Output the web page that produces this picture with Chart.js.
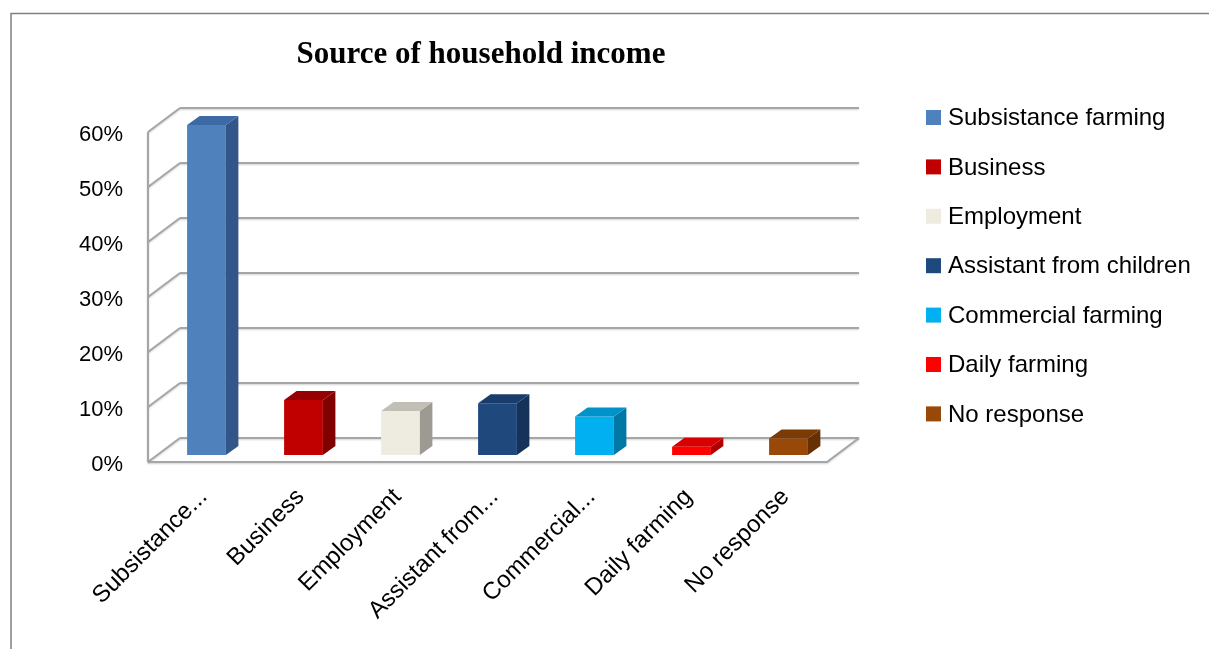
<!DOCTYPE html>
<html lang="en">
<head>
    <meta charset="UTF-8">
    <title>Source of household income</title>
    <style>
        body {
            margin: 0;
            background: #fff;
        }

        #wrap {
            width: 1209px;
            height: 649px;
            position: relative;
        }
    </style>
</head>
<body>
    <div id="wrap">
        <canvas id="incomeChart" width="1209" height="649"></canvas>
    </div>

    <script src="https://cdn.jsdelivr.net/npm/chart.js"></script>
    <script>
        // data
        const categories = ['Subsistance farming', 'Business', 'Employment', 'Assistant from children', 'Commercial farming', 'Daily farming', 'No response'];
        const tickLabels = ['Subsistance...', 'Business', 'Employment', 'Assistant from...', 'Commercial...', 'Daily farming', 'No response'];
        const percentages = [60, 10, 8, 9.4, 7, 1.5, 3];
        const yTicks = [0, 10, 20, 30, 40, 50, 60];

        const frontColors = ['#4f81bd', '#c00000', '#eeece1', '#1f497d', '#00b0f0', '#ff0000', '#984807'];
        const sideColors = ['#32568a', '#800000', '#9c9a92', '#15325a', '#0078a6', '#b00000', '#663004'];
        const topColors = ['#3c6aa4', '#960000', '#c2c0b6', '#1a3c6c', '#0092c8', '#d80000', '#7c3a05'];

        // depth of the floor / back wall and of each bar (pixels)
        const wallFront = { dx: -10, dy: 7 };
        const wallBack = { dx: 22, dy: -17 };
        const barDepth = { dx: 12.5, dy: -9 };

        Chart.defaults.font.family = '"Liberation Sans", Arial, sans-serif';
        Chart.defaults.color = '#000';

        function line(ctx, x1, y1, x2, y2) {
            ctx.beginPath();
            ctx.moveTo(x1, y1);
            ctx.lineTo(x2, y2);
            ctx.stroke();
        }

        function poly(ctx, pts, fill) {
            ctx.beginPath();
            ctx.moveTo(pts[0][0], pts[0][1]);
            for (let i = 1; i < pts.length; i++) ctx.lineTo(pts[i][0], pts[i][1]);
            ctx.closePath();
            ctx.fillStyle = fill;
            ctx.fill();
        }

        // frame, walls, title and legend
        const framePlugin = {
            id: 'frame3d',
            beforeDatasetsDraw(chart) {
                const ctx = chart.ctx;
                const ca = chart.chartArea;
                const ys = chart.scales.y;
                ctx.save();
                ctx.strokeStyle = '#a6a6a6';
                ctx.lineWidth = 2;
                ctx.shadowColor = 'rgba(0,0,0,0.18)';
                ctx.shadowBlur = 2;
                ctx.shadowOffsetY = 1;

                yTicks.forEach(v => {
                    const y = ys.getPixelForValue(v);
                    line(ctx, ca.left + wallBack.dx, y + wallBack.dy, ca.right + wallBack.dx, y + wallBack.dy);
                    line(ctx, ca.left + wallFront.dx, y + wallFront.dy, ca.left + wallBack.dx, y + wallBack.dy);
                });

                const y0 = ys.getPixelForValue(0);
                const yMax = ys.getPixelForValue(yTicks[yTicks.length - 1]);
                line(ctx, ca.left + wallFront.dx, yMax + wallFront.dy, ca.left + wallFront.dx, y0 + wallFront.dy);
                ctx.beginPath();
                ctx.moveTo(ca.left + wallFront.dx, y0 + wallFront.dy);
                ctx.lineTo(ca.right + wallFront.dx, y0 + wallFront.dy);
                ctx.lineTo(ca.right + wallBack.dx, y0 + wallBack.dy);
                ctx.stroke();
                ctx.restore();
            },
            afterDatasetsDraw(chart) {
                const ctx = chart.ctx;
                const meta = chart.getDatasetMeta(0);
                ctx.save();
                meta.data.forEach((bar, i) => {
                    const p = bar.getProps(['x', 'y', 'base', 'width'], true);
                    const l = p.x - p.width / 2;
                    const r = p.x + p.width / 2;
                    const dx = barDepth.dx, dy = barDepth.dy;
                    poly(ctx, [[r, p.y], [r + dx, p.y + dy], [r + dx, p.base + dy], [r, p.base]], sideColors[i]);
                    poly(ctx, [[l, p.y], [r, p.y], [r + dx, p.y + dy], [l + dx, p.y + dy]], topColors[i]);
                });
                ctx.restore();
            },
            afterDraw(chart) {
                const ctx = chart.ctx;
                ctx.save();
                // outer border (top and left only visible)
                ctx.strokeStyle = '#808080';
                ctx.lineWidth = 1.5;
                ctx.beginPath();
                ctx.moveTo(11, 649);
                ctx.lineTo(11, 13.5);
                ctx.lineTo(1209, 13.5);
                ctx.stroke();

                // title
                ctx.fillStyle = '#000';
                ctx.font = 'bold 31px "Liberation Serif", "Times New Roman", serif';
                ctx.textAlign = 'center';
                ctx.textBaseline = 'alphabetic';
                ctx.fillText('Source of household income', 481, 63);

                // legend
                ctx.font = '24px "Liberation Sans", Arial, sans-serif';
                ctx.textAlign = 'left';
                ctx.textBaseline = 'middle';
                categories.forEach((name, i) => {
                    const cy = 117.5 + i * 49.4;
                    ctx.fillStyle = frontColors[i];
                    ctx.fillRect(926, cy - 7.5, 15, 15);
                    ctx.fillStyle = '#000';
                    ctx.fillText(name, 948, cy + 1);
                });
                ctx.restore();
            }
        };

        const ctx = document.getElementById('incomeChart').getContext('2d');
        const chart = new Chart(ctx, {
            type: 'bar',
            data: {
                labels: categories,
                datasets: [{
                    label: 'Source of household income',
                    data: percentages,
                    backgroundColor: frontColors,
                    borderWidth: 0,
                    barPercentage: 0.4,
                    categoryPercentage: 1
                }]
            },
            options: {
                responsive: false,
                animation: false,
                devicePixelRatio: 1,
                layout: {
                    padding: { top: 125, left: 58, right: 372, bottom: 4 }
                },
                plugins: {
                    legend: { display: false },
                    title: { display: false },
                    tooltip: { enabled: false }
                },
                scales: {
                    x: {
                        grid: { display: false },
                        border: { display: false },
                        ticks: {
                            autoSkip: false,
                            minRotation: 45,
                            maxRotation: 45,
                            padding: 20,
                            labelOffset: -3,
                            font: { size: 24 },
                            callback: (v, i) => tickLabels[i]
                        },
                        afterFit: s => { s.height = 190; }
                    },
                    y: {
                        min: 0,
                        max: 60,
                        grid: { display: false },
                        border: { display: false },
                        ticks: {
                            stepSize: 10,
                            padding: 27,
                            labelOffset: 10,
                            font: { size: 22 },
                            callback: v => v + '%'
                        },
                        afterFit: s => { s.width = 100; }
                    }
                }
            },
            plugins: [framePlugin]
        });
    </script>
</body>
</html>
